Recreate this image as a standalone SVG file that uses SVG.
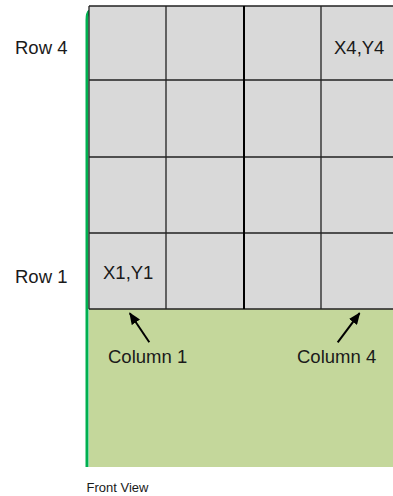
<svg xmlns="http://www.w3.org/2000/svg" width="393" height="496" viewBox="0 0 393 496">
<defs>
<style>
.lbl{font-family:"Liberation Sans",Arial,sans-serif;font-size:18.5px;fill:#1a1a1a}
.small{font-family:"Liberation Sans",Arial,sans-serif;font-size:13px;fill:#1a1a1a}
.grid{stroke:#222;stroke-width:1.3;fill:none}
.arrow{stroke:#000;stroke-width:2;fill:none}
</style>
<marker id="ah" viewBox="0 0 12 10" refX="11" refY="5" markerWidth="6" markerHeight="5" orient="auto" markerUnits="strokeWidth">
<path d="M0,0 L12,5 L0,10 z" fill="#000"/>
</marker>
</defs>
<rect width="393" height="496" fill="#fff"/>
<g id="base">
<rect x="89" y="309" width="304" height="158" fill="#C4D79B"/>
<path d="M87,467 L87,20 Q87,13 89.5,11" stroke="#00B050" stroke-width="3" fill="none"/>
</g>
<g id="grid">
<rect x="89" y="6" width="304" height="303" fill="#D9D9D9"/>
<path class="grid" d="M89,6 H393 M89,80 H393 M89,157 H393 M89,233 H393 M89,309 H393 M89,6 V309 M166,6 V309 M321,6 V309"/>
<path d="M244,6 V309" stroke="#000" stroke-width="2"/>
</g>
<g id="labels">
<text class="lbl" x="15" y="54">Row 4</text>
<text class="lbl" x="15" y="283">Row 1</text>
<text class="lbl" x="334" y="54">X4,Y4</text>
<text class="lbl" x="103" y="278.5">X1,Y1</text>
<text class="lbl" x="108" y="363">Column 1</text>
<text class="lbl" x="297" y="363">Column 4</text>
<text class="small" x="86.5" y="492">Front View</text>
</g>
<g id="connectors">
<line class="arrow" x1="149.3" y1="342.3" x2="129.8" y2="313.2" marker-end="url(#ah)"/>
<line class="arrow" x1="337.7" y1="342.3" x2="359.6" y2="313.1" marker-end="url(#ah)"/>
</g>
</svg>
